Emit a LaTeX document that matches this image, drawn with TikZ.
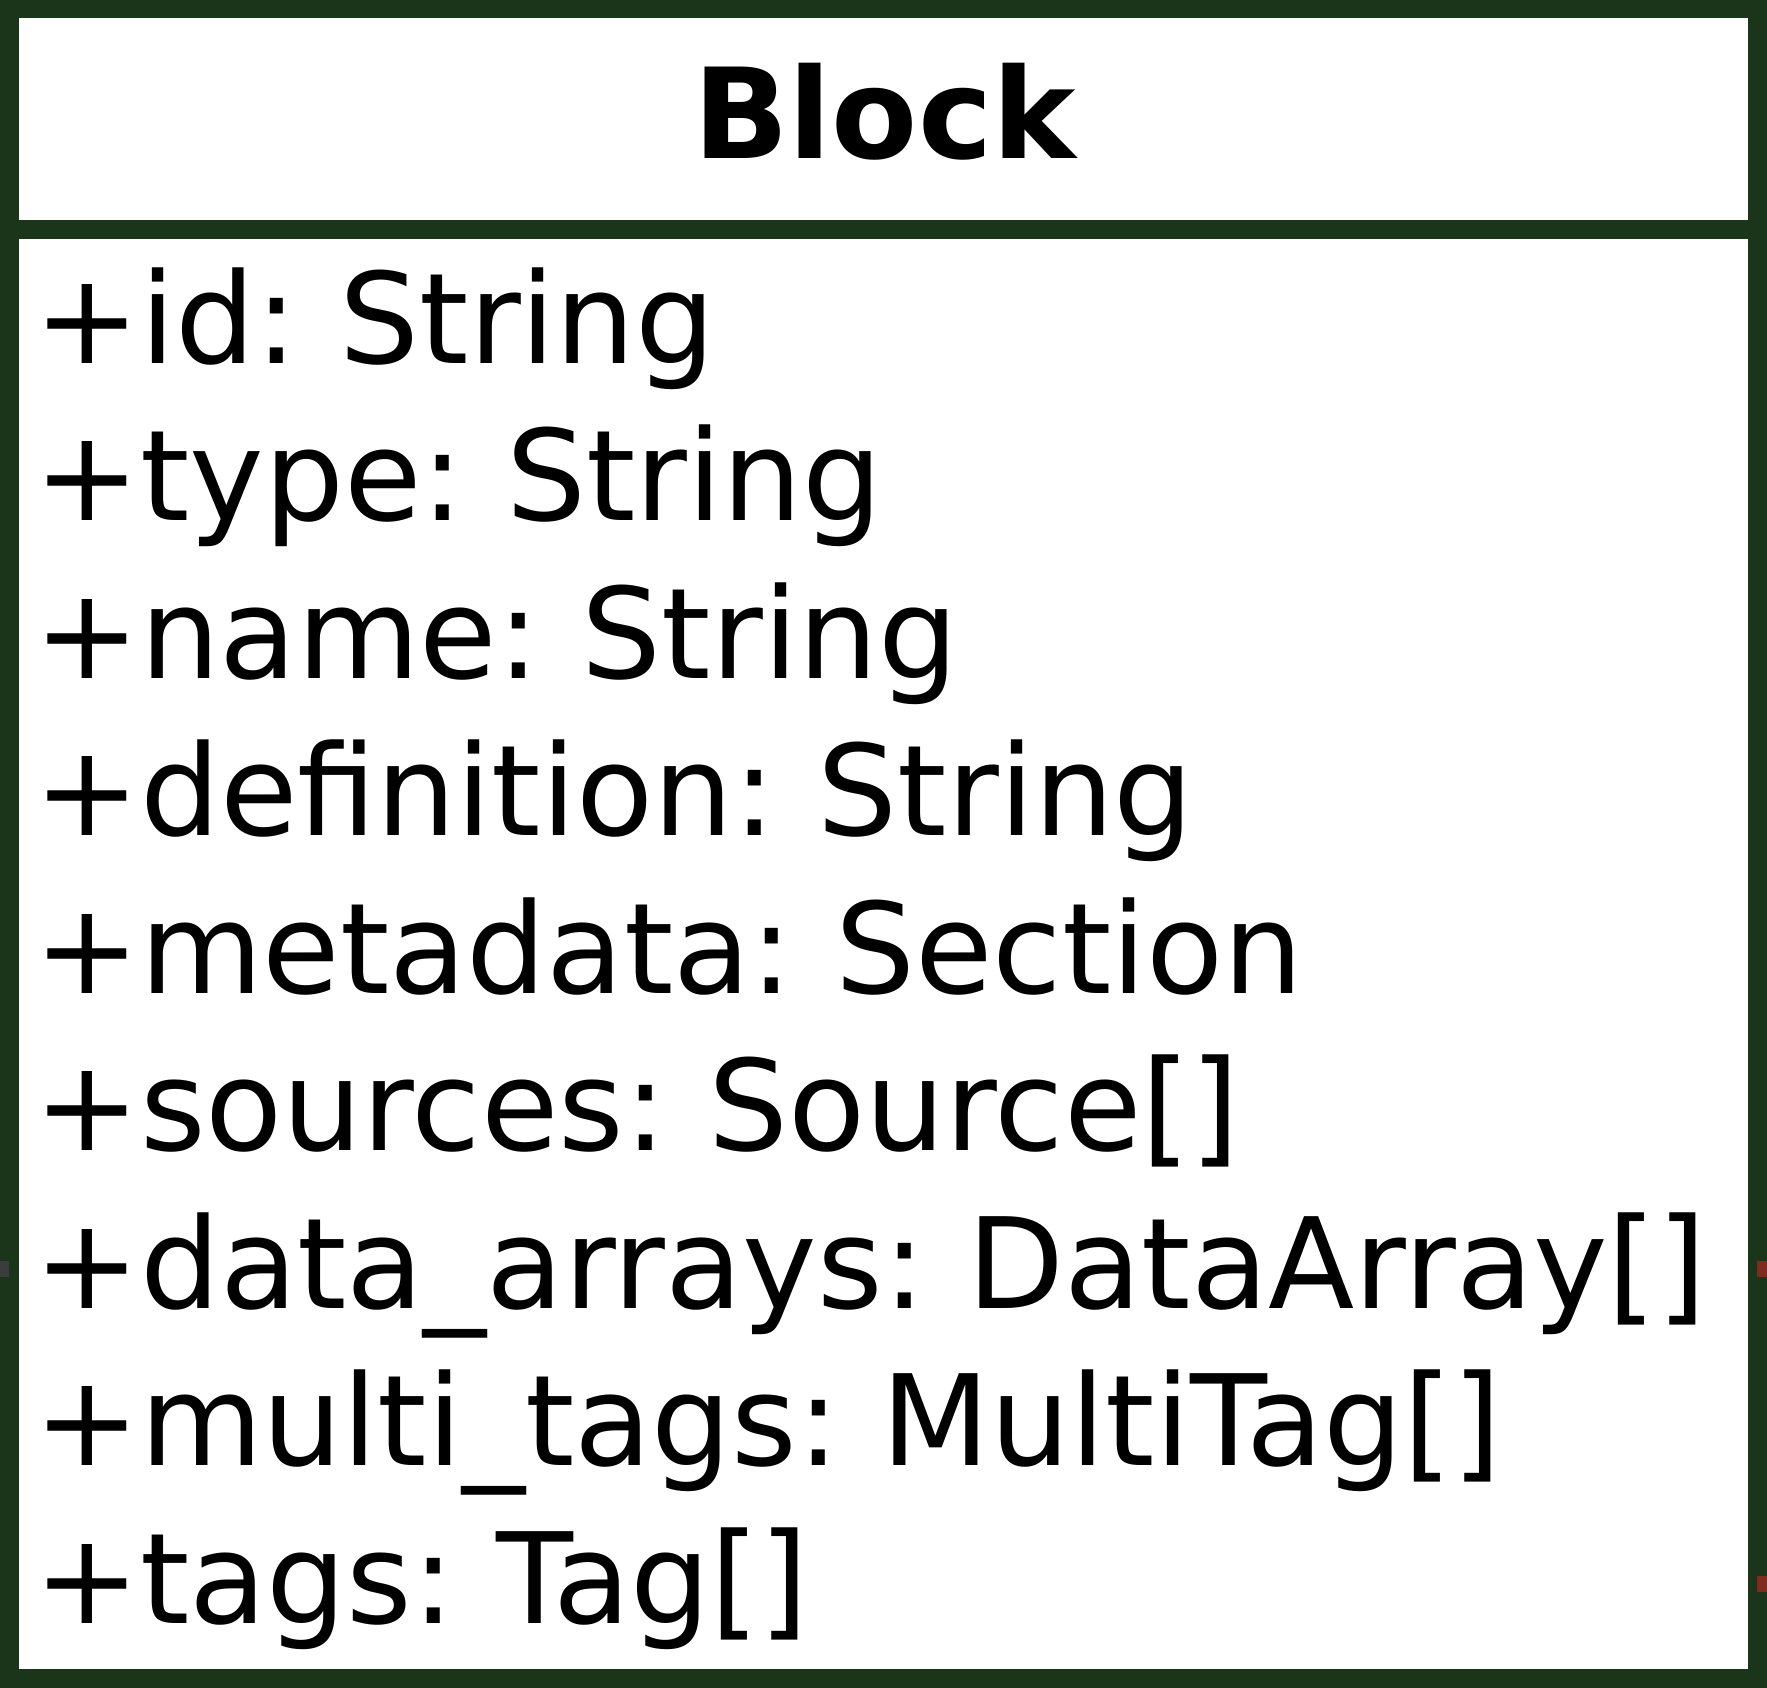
\documentclass[tikz,border=0pt]{standalone}
\usepackage{fontspec}
\setmainfont[WordSpace=0.72]{DejaVu Sans}
\definecolor{framegreen}{HTML}{1A3519}
\definecolor{linkred}{HTML}{7F2B1F}
\definecolor{linkgray}{HTML}{3C3C3C}
\begin{document}
\begin{tikzpicture}[x=1pt,y=-1pt,
  frame/.style={draw=framegreen, line width=18.6pt},
  classtitle/.style={anchor=base, inner sep=0pt, font=\fontsize{125.5}{150}\selectfont\bfseries},
  attr/.style={anchor=base west, inner sep=0pt, font=\fontsize{126}{150}\selectfont},
  stub/.style={line width=15.7pt, line cap=butt}]
\useasboundingbox (0,0) rectangle (1767,1688);
\fill[white] (0,0) rectangle (1767,1688);

% class box and the line under its name
\draw[frame] (9.3,9.2) rectangle (1757.5,1678.7);
\draw[frame] (18.5,229.7) -- (1748,229.7);

% class name
\node[classtitle] (title) at (884.5,158.3) {Block};

% attributes
\node[attr] (a1) at (34.3,363.3) {+id: String};
\node[attr] (a2) at (34.3,520.8) {+type: String};
\node[attr] (a3) at (34.3,678.3) {+name: String};
\node[attr] (a4) at (34.3,835.8) {+definition: String};
\node[attr] (a5) at (34.3,993.3) {+metadata: Section};
\node[attr] (a6) at (34.3,1150.8) {+sources: Source[]};
\node[attr] (a7) at (34.3,1308.3) {+data\_arrays: DataArray[]};
\node[attr] (a8) at (34.3,1465.8) {+multi\_tags: MultiTag[]};
\node[attr] (a9) at (34.3,1623.3) {+tags: Tag[]};

% ends of links leaving the box
\coordinate (l1a) at (0,1268.9);
\coordinate (l1b) at (9,1268.9);
\coordinate (r1a) at (1757.3,1268.9);
\coordinate (r1b) at (1767,1268.9);
\coordinate (r2a) at (1757.3,1583.9);
\coordinate (r2b) at (1767,1583.9);
\draw[stub, linkgray] (l1a) -- (l1b);
\draw[stub, linkred] (r1a) -- (r1b);
\draw[stub, linkred] (r2a) -- (r2b);
\end{tikzpicture}
\end{document}
